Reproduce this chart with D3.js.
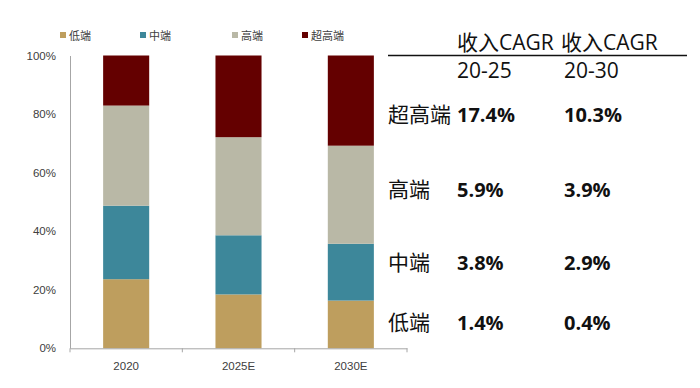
<!DOCTYPE html>
<html><head><meta charset="utf-8">
<script src="https://cdn.jsdelivr.net/npm/d3@7/dist/d3.min.js"></script>
<style>
html,body{margin:0;padding:0;background:#fff;}
svg{display:block;font-family:"Open Sans","Noto Sans CJK SC",sans-serif;}
</style></head>
<body><svg id="c" width="700" height="388"></svg>
<script>
const categories = ["2020", "2025E", "2030E"];
const seriesNames = ["低端", "中端", "高端", "超高端"];
const lowVals   = [23.6, 18.4, 16.3];
const midVals   = [25.1, 20.2, 19.4];
const highVals  = [34.2, 33.5, 33.5];
const ultraVals = [17.1, 27.9, 30.8];
const yTicks = [0, 20, 40, 60, 80, 100];
const colors = ["#BE9E5E", "#3D879A", "#B9B8A6", "#640000"];

const tableHeader1 = ["收入CAGR", "收入CAGR"];
const tableHeader2 = ["20-25", "20-30"];
const rowLabels = ["超高端", "高端", "中端", "低端"];
const cagr2025 = ["17.4%", "5.9%", "3.8%", "1.4%"];
const cagr2030 = ["10.3%", "3.9%", "2.9%", "0.4%"];

const svg = d3.select("#c");
const x0 = 70, x1 = 407, yTop = 55.5, yBot = 348.3;

const y = d3.scaleLinear().domain([0, 100]).range([yBot, yTop]);
const xBand = d3.scaleBand().domain(categories).range([x0, x1]).paddingInner(0.59).paddingOuter(0.295);
const xGrid = d3.scaleBand().domain(categories).range([x0, x1]).padding(0);

const rows = categories.map((c, i) => ({cat: c, "低端": lowVals[i], "中端": midVals[i], "高端": highVals[i], "超高端": ultraVals[i]}));
const stack = d3.stack().keys(seriesNames)(rows);

const g = svg.append("g");
stack.forEach((layer, li) => {
  g.selectAll(null).data(layer).enter().append("rect")
    .attr("x", d => xBand(d.data.cat))
    .attr("width", xBand.bandwidth())
    .attr("y", d => y(d[1]))
    .attr("height", d => y(d[0]) - y(d[1]))
    .attr("fill", colors[li]);
});

// y axis
const yAxis = d3.axisLeft(y).tickValues(yTicks).tickFormat(d => d + "%").tickSize(0).tickPadding(14);
const ya = svg.append("g").attr("transform", `translate(${x0},0)`).call(yAxis);
ya.select(".domain").attr("stroke", "#a6a6a6").attr("stroke-width", 1);
ya.selectAll("text").attr("font-size", 11.5).attr("fill", "#404040");

// x axis
const xAxis = d3.axisBottom(xGrid).tickSize(0).tickPadding(14);
const xa = svg.append("g").attr("transform", `translate(0,${yBot})`).call(xAxis);
xa.select(".domain").attr("stroke", "#a6a6a6").attr("stroke-width", 1);
xa.selectAll("text").attr("font-size", 11.5).attr("fill", "#404040");
const bounds = categories.map(c => xGrid(c)).concat([x1]);
xa.selectAll(".btick").data(bounds).enter().append("line")
  .attr("x1", d => d).attr("x2", d => d).attr("y1", 0).attr("y2", 4)
  .attr("stroke", "#a6a6a6");

// legend
const legendX = [60, 140, 232, 302];
const lg = svg.append("g");
seriesNames.forEach((s, i) => {
  lg.append("rect").attr("x", legendX[i]).attr("y", 32).attr("width", 6).attr("height", 6).attr("fill", colors[i]);
  lg.append("text").attr("x", legendX[i] + 9).attr("y", 39.5).attr("font-size", 11).attr("fill", "#404040").text(s);
});

// table
const t = svg.append("g").attr("fill", "#111");
const colX = [457, 564];
const hdrX = [457, 561];
tableHeader1.forEach((h, i) => {
  t.append("text").attr("x", hdrX[i]).attr("y", 50).attr("font-size", 21).text(h);
});
t.append("line").attr("x1", 388).attr("x2", 687).attr("y1", 55.5).attr("y2", 55.5).attr("stroke", "#111").attr("stroke-width", 1.5);
tableHeader2.forEach((h, i) => {
  t.append("text").attr("x", colX[i]).attr("y", 78).attr("font-size", 21).text(h);
});
const rowY = [115, 190, 263, 323];
rowLabels.forEach((r, i) => {
  t.append("text").attr("x", 388).attr("y", rowY[i]).attr("dy", "0.35em").attr("font-size", 21).text(r);
  t.append("text").attr("x", colX[0]).attr("y", rowY[i]).attr("dy", "0.35em").attr("font-size", 20).attr("font-weight", "bold").text(cagr2025[i]);
  t.append("text").attr("x", colX[1]).attr("y", rowY[i]).attr("dy", "0.35em").attr("font-size", 20).attr("font-weight", "bold").text(cagr2030[i]);
});
</script></body></html>
